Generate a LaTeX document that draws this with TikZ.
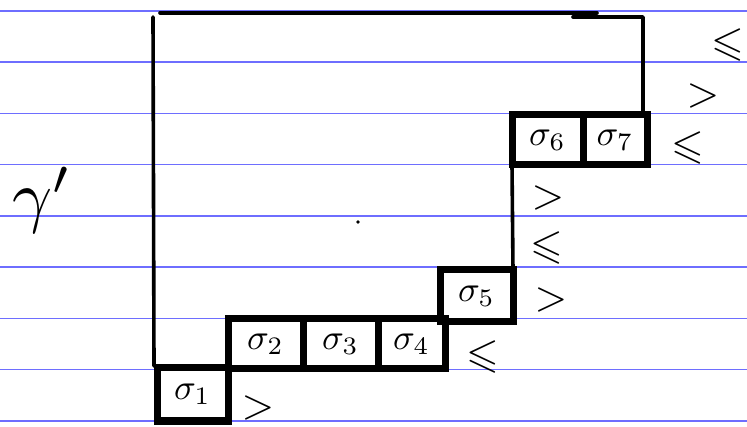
\documentclass[tikz,border=0pt]{standalone}
\usepackage{amssymb}
\begin{document}
\begin{tikzpicture}[x=1pt,y=-1pt,
  ruled/.style={draw={rgb,255:red,110;green,110;blue,255},line width=1.5pt},
  thin/.style={draw=black,line width=3.6pt,line cap=round,line join=round},
  cell/.style={draw=black,line width=7pt,inner sep=0pt,outer sep=0pt,minimum height=50pt},
  rel/.style={inner sep=0pt,outer sep=0pt}]
\useasboundingbox[fill=white] (0,0) rectangle (747,427);
\foreach \k in {0,...,8} \draw[ruled] (0,{11+51.25*\k}) -- (747,{11+51.25*\k});
% outer contour
\coordinate (lt) at (153,17);
\coordinate (lb) at (154,366);
\coordinate (ta) at (160,13);
\coordinate (tb) at (597,13);
\coordinate (tc) at (573,17);
\coordinate (td) at (643,17);
\coordinate (te) at (643,113);
\draw[thin] (lt) -- (lb);
\draw[thin] (ta) -- (tb);
\draw[thin] (tc) -- (td) -- (te);
% cells
\node[cell,minimum width=71pt,minimum height=53pt] (s1) at (192.5,394.5) {\scalebox{3.6}{$\sigma_1$}};
\node[cell,minimum width=75pt] (s2) at (265.5,344) {\scalebox{3.6}{$\sigma_2$}};
\node[cell,minimum width=75pt] (s3) at (340.5,344) {\scalebox{3.6}{$\sigma_3$}};
\node[cell,minimum width=67pt] (s4) at (411.5,344) {\scalebox{3.6}{$\sigma_4$}};
\node[cell,minimum width=73pt,minimum height=52pt] (s5) at (476.5,296) {\scalebox{3.6}{$\sigma_5$}};
\node[cell,minimum width=71pt] (s6) at (547.5,140) {\scalebox{3.6}{$\sigma_6$}};
\node[cell,minimum width=64pt] (s7) at (615,140) {\scalebox{3.6}{$\sigma_7$}};
\draw[thin] (s6.south west) -- (s5.north east);
% relations
\node[rel] (r1) at (728,45) {\scalebox{4.2}{$\leqslant$}};
\node[rel] (r2) at (703,96) {\scalebox{4.2}{$>$}};
\node[rel] (r3) at (688,148) {\scalebox{4.2}{$\leqslant$}};
\node[rel] (r4) at (548,198) {\scalebox{4.2}{$>$}};
\node[rel] (r5) at (547,248) {\scalebox{4.2}{$\leqslant$}};
\node[rel] (r6) at (551,300) {\scalebox{4.2}{$>$}};
\node[rel] (r7) at (483,357) {\scalebox{4.2}{$\leqslant$}};
\node[rel] (r8) at (258,408) {\scalebox{4.2}{$>$}};
% label
\node[inner sep=0pt] (g) at (42,200) {\scalebox{7}{$\gamma'$}};
\fill (358,222) circle (1.8pt);
\end{tikzpicture}
\end{document}
